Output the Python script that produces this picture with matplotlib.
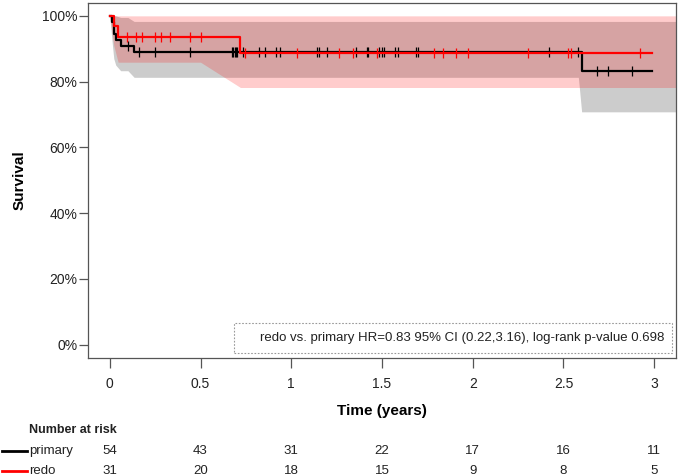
import matplotlib
matplotlib.use("Agg")
import matplotlib.pyplot as plt
import matplotlib.transforms as mtransforms
from matplotlib.lines import Line2D
from matplotlib.patches import Rectangle

# Kaplan-Meier steps (time in years, survival after the step)
primary_t = [0, 0.013, 0.022, 0.033, 0.06, 0.134, 2.60]
primary_s = [1.0, 0.981, 0.944, 0.926, 0.907, 0.889, 0.833]
primary_end = 2.99
redo_t = [0, 0.022, 0.046, 0.72]
redo_s = [1.0, 0.968, 0.935, 0.888]
redo_end = 2.99

# censoring times
primary_cens = [0.10, 0.16, 0.247, 0.44, 0.674, 0.681, 0.689, 0.696, 0.703, 0.733,
                0.82, 0.857, 0.916, 0.938, 1.141, 1.154, 1.198, 1.355, 1.416, 1.425,
                1.484, 1.50, 1.511, 1.571, 1.588, 1.685, 1.70, 2.421, 2.582,
                2.683, 2.747, 2.875]
redo_cens = [0.095, 0.147, 0.18, 0.247, 0.284, 0.33, 0.44, 0.50,
             0.745, 1.03, 1.264, 1.342, 1.474, 1.786, 1.837, 1.908, 1.974,
             2.304, 2.524, 2.542, 2.921]

# 95% confidence bands
primary_ci_t = [0, 0.013, 0.022, 0.033, 0.06, 0.10, 0.134, 2.582, 2.60, 3.12]
primary_ci_lo = [1.0, 0.92, 0.87, 0.85, 0.833, 0.833, 0.813, 0.813, 0.708, 0.708]
primary_ci_hi = [1.0, 1.0, 1.0, 1.0, 0.995, 0.995, 0.983, 0.983, 0.983, 0.983]
redo_ci_t = [0, 0.022, 0.046, 0.50, 0.72, 3.12]
redo_ci_lo = [1.0, 0.91, 0.859, 0.859, 0.782, 0.782]
redo_ci_hi = [1.0, 1.0, 1.0, 1.0, 1.0, 1.0]

# number at risk table
risk_times = [0, 0.5, 1, 1.5, 2, 2.5, 3]
risk_primary = [54, 43, 31, 22, 17, 16, 11]
risk_redo = [31, 20, 18, 15, 9, 8, 5]

plt.rcParams.update({
    "font.family": "sans-serif",
    "font.sans-serif": ["Liberation Sans", "Arial", "DejaVu Sans"],
})

W, H = 680, 476
fig = plt.figure(figsize=(W / 100, H / 100), dpi=100)
ax = fig.add_axes([88 / W, (H - 357.7) / H, 588 / W, 355 / H])


def surv_at(t_steps, s_steps, t):
    s = s_steps[0]
    for ti, si in zip(t_steps, s_steps):
        if t >= ti:
            s = si
    return s


# bands
ax.fill_between(primary_ci_t, primary_ci_lo, primary_ci_hi, color="black", alpha=0.2, lw=0)
ax.fill_between(redo_ci_t, redo_ci_lo, redo_ci_hi, color="red", alpha=0.2, lw=0)

# curves
ax.step(primary_t + [primary_end], primary_s + [primary_s[-1]], where="post",
        color="black", lw=1.6, zorder=3)
ax.step(redo_t + [redo_end], redo_s + [redo_s[-1]], where="post",
        color="red", lw=1.6, zorder=4)

# censor marks
ax.plot(primary_cens, [surv_at(primary_t, primary_s, c) for c in primary_cens],
        ls="none", marker="|", ms=6.5, mew=0.9, color="black", zorder=3)
ax.plot(redo_cens, [surv_at(redo_t, redo_s, c) for c in redo_cens],
        ls="none", marker="|", ms=6.5, mew=0.9, color="red", zorder=4)

ax.set_xlim(-0.12, 3.12)
ax.set_ylim(-0.04, 1.04)
ax.set_xticks(risk_times)
ax.set_xticklabels(["0", "0.5", "1", "1.5", "2", "2.5", "3"])
ax.set_yticks([0, 0.2, 0.4, 0.6, 0.8, 1.0])
ax.set_yticklabels(["0%", "20%", "40%", "60%", "80%", "100%"])
ax.tick_params(axis="y", length=6.5, width=0.9, pad=1, labelsize=10, colors="#555555", labelcolor="#222222")
ax.tick_params(axis="x", length=7, width=0.9, pad=7, labelsize=10, colors="#555555", labelcolor="#222222")
for sp in ax.spines.values():
    sp.set_color("#555555")
    sp.set_linewidth(0.9)

ax.set_xlabel("Time (years)", fontsize=11, fontweight="bold", labelpad=9)
ax.set_ylabel("Survival", fontsize=11, fontweight="bold", labelpad=11)

# test annotation box
ax.add_patch(Rectangle((0.248, 0.012), 0.745, 0.0866, transform=ax.transAxes,
                       fill=False, ec="#999999", ls=(0, (1.5, 1.5)), lw=0.8))
ax.text(0.980, 0.055, "redo vs. primary HR=0.83 95% CI (0.22,3.16), log-rank p-value 0.698",
        transform=ax.transAxes, ha="right", va="center", fontsize=9.5, color="#222222")

# number at risk
fig.text(29 / W, 1 - 430 / H, "Number at risk", fontsize=9, fontweight="bold",
         ha="left", va="center", color="#222222")
trans = mtransforms.blended_transform_factory(ax.transData, fig.transFigure)
rows = [("primary", "black", risk_primary, 451), ("redo", "red", risk_redo, 471)]
for name, col, counts, ypx in rows:
    yf = 1 - ypx / H
    fig.add_artist(Line2D([2 / W, 27 / W], [yf, yf], color=col, lw=2))
    fig.text(29 / W, yf, name, fontsize=9.5, ha="left", va="center", color="#222222")
    for t, n in zip(risk_times, counts):
        ax.text(t, yf, str(n), transform=trans, fontsize=9.5, ha="center", va="center",
                color="#222222", clip_on=False)

fig.savefig("out.png", dpi=100)
